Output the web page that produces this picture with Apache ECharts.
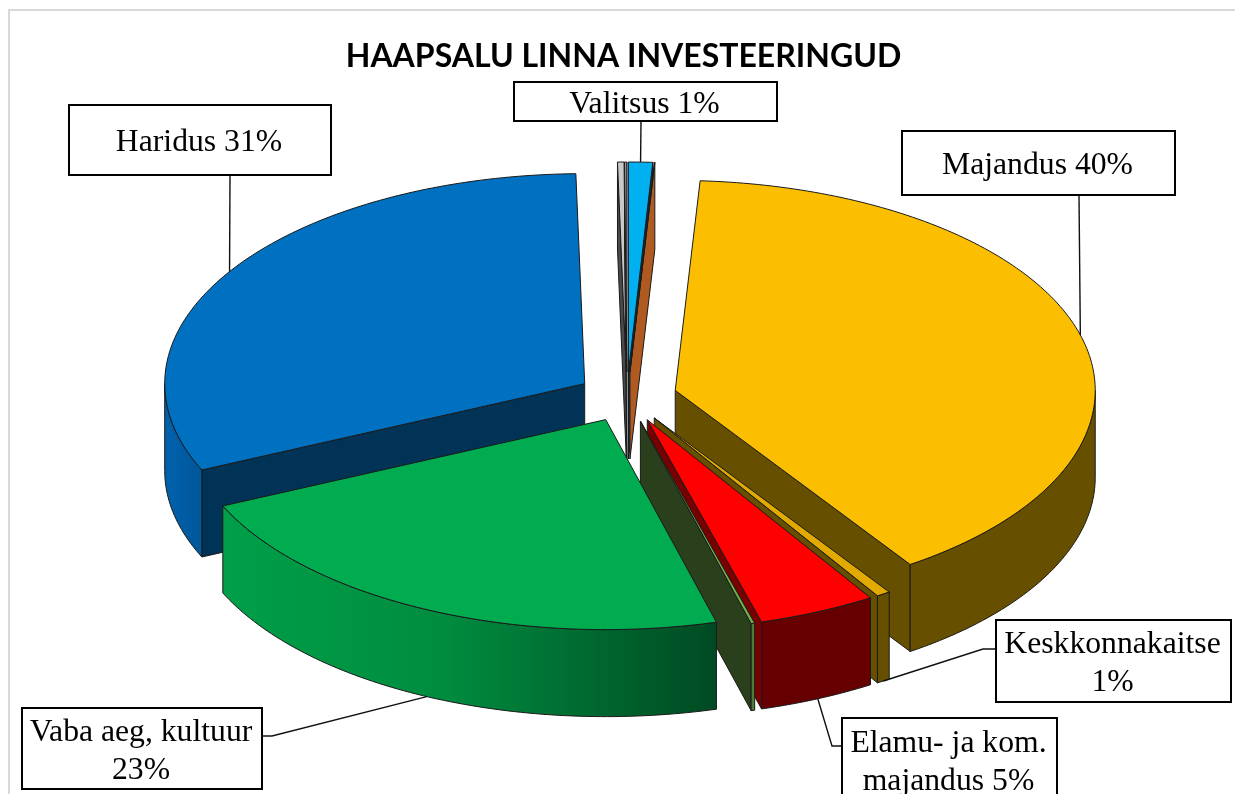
<!DOCTYPE html>
<html>
<head>
<meta charset="utf-8">
<style>
html, body { margin: 0; padding: 0; background: #fff; overflow: hidden; }
#chart { width: 1235px; height: 794px; }
</style>
<script src="https://cdn.jsdelivr.net/npm/echarts@6/dist/echarts.min.js"></script>
</head>
<body>
<div id="chart"></div>
<script>
// slices clockwise from the first one, shares in percent
var categories = ['Majandus', 'Keskkonnakaitse', 'Elamu- ja kom. majandus', 'Muu A', 'Vaba aeg, kultuur', 'Haridus', 'Muu B', 'Muu C', 'Valitsus', 'Muu D'];
var shares = [39.6, 0.53, 4.53, 0.14, 22.5, 31.4, 0.25, 0.08, 0.93, 0.02];

// colours per slice
var topColors = ['#FBBE00', '#E2AA00', '#FF0000', '#70AD47', '#00AC4F', '#0070C0', '#C9C9C9', '#A5A5A5', '#00B0F0', '#AE5A21'];
var faceColors = ['#665000', '#665000', '#780000', '#2A3F1C', '#004A23', '#003355', '#4A4A4A', '#8A8A8A', '#003F5C', '#AE5A21'];
var wallLeft = ['#665000', '#665000', '#660000', '#4F7A32', '#009F49', '#0062AC', '#777777', '#777777', '#006080', '#AE5A21'];
var wallMid = ['#665000', '#665000', '#660000', '#4F7A32', '#008C3F', '#005DA5', '#777777', '#777777', '#006080', '#AE5A21'];
var wallRight = ['#665000', '#665000', '#660000', '#4F7A32', '#004A23', '#00569A', '#777777', '#777777', '#006080', '#AE5A21'];

// back to front, the pie is painted like this
var drawOrder = [5, 6, 7, 8, 9, 0, 1, 2, 3, 4];

var labelSlices = [0, 1, 2, 4, 5, 8];
var labelTexts = ['Majandus 40%', 'Keskkonnakaitse\n1%', 'Elamu- ja kom.\nmajandus 5%', 'Vaba aeg, kultuur\n23%', 'Haridus 31%', 'Valitsus 1%'];

var CX = 627, CY = 397, RX = 420, RY = 210, DEPTH = 87, EXPLODE = 50, START_ANGLE = 3.4;
var EDGE = '#1a1a1a';

// box: x, y, w, h, then where the leader leaves it and its knee
var labelBoxes = [
    {x: 902, y: 131, w: 273, h: 64, from: [1079, 195]},
    {x: 996, y: 620, w: 235, h: 82, from: [996, 649], knee: [983, 649]},
    {x: 842, y: 718, w: 215, h: 84, from: [842, 746], knee: [832, 746]},
    {x: 22, y: 708, w: 240, h: 81, from: [262, 736], knee: [272, 736]},
    {x: 69, y: 105, w: 262, h: 70, from: [230, 175]},
    {x: 514, y: 82, w: 263, h: 39, from: [641, 121]}
];

var total = shares.reduce(function(a, b) { return a + b; }, 0);
var slices = [];
(function() {
    var t = START_ANGLE;
    for (var i = 0; i < shares.length; i++) {
        var span = shares[i] / total * 360;
        var mid = (t + span / 2) * Math.PI / 180;
        slices.push({
            start: t,
            end: t + span,
            mid: t + span / 2,
            ax: CX + EXPLODE * Math.sin(mid),
            ay: CY - EXPLODE * 0.5 * Math.cos(mid)
        });
        t += span;
    }
})();

function rim(s, deg, drop) {
    var r = deg * Math.PI / 180;
    return [s.ax + RX * Math.sin(r), s.ay - RY * Math.cos(r) + (drop || 0)];
}

function arc(s, from, to, drop) {
    var pts = [];
    for (var d = from; d < to; d += 1) {
        pts.push(rim(s, d, drop));
    }
    pts.push(rim(s, to, drop));
    return pts;
}

function poly(points, fill) {
    return {
        type: 'polygon',
        shape: {points: points},
        style: {fill: fill, stroke: EDGE, lineWidth: 1}
    };
}

function cutFace(s, deg, fill) {
    var a = [s.ax, s.ay], b = rim(s, deg);
    return poly([a, b, [b[0], b[1] + DEPTH], [a[0], a[1] + DEPTH]], fill);
}

function renderSlice(params, api) {
    var i = api.value(0);
    var s = slices[i];
    var children = [];
    var startNorm = s.start % 360, endNorm = s.end % 360;
    if (startNorm > 180) {
        children.push(cutFace(s, s.start, faceColors[i]));
    }
    if (endNorm < 180) {
        children.push(cutFace(s, s.end, faceColors[i]));
    }
    var wFrom = Math.max(s.start, 90), wTo = Math.min(s.end, 270);
    if (wTo > wFrom) {
        var fill = new echarts.graphic.LinearGradient(0, 0, 1, 0, [
            {offset: 0, color: wallLeft[i]},
            {offset: 0.45, color: wallMid[i]},
            {offset: 1, color: wallRight[i]}
        ]);
        children.push(poly(arc(s, wFrom, wTo).concat(arc(s, wFrom, wTo, DEPTH).reverse()), fill));
    }
    children.push(poly([[s.ax, s.ay]].concat(arc(s, s.start, s.end)), topColors[i]));
    return {type: 'group', children: children};
}

function renderLabel(params, api) {
    var n = api.value(0);
    var s = slices[labelSlices[n]];
    var box = labelBoxes[n];
    // front slices get the leader at the foot of the wall
    var frontal = Math.cos(s.mid * Math.PI / 180) < 0;
    var target = rim(s, s.mid, frontal ? DEPTH : 0);
    var line = [box.from];
    if (box.knee) {
        line.push(box.knee);
    }
    line.push(target);
    return {
        type: 'group',
        children: [
            {
                type: 'polyline',
                shape: {points: line},
                style: {fill: null, stroke: '#111', lineWidth: 1.4}
            },
            {
                type: 'rect',
                shape: {x: box.x, y: box.y, width: box.w, height: box.h},
                style: {fill: '#fff', stroke: '#000', lineWidth: 2}
            },
            {
                type: 'text',
                style: {
                    x: box.x + box.w / 2 - 1,
                    y: box.y + box.h / 2 + 3,
                    text: labelTexts[n],
                    fill: '#000',
                    font: '31.7px "Liberation Serif"',
                    lineHeight: 38,
                    align: 'center',
                    verticalAlign: 'middle'
                }
            }
        ]
    };
}

var chart = echarts.init(document.getElementById('chart'));
chart.setOption({
    animation: false,
    backgroundColor: '#fff',
    title: {
        text: 'HAAPSALU LINNA INVESTEERINGUD',
        left: 618.5,
        top: 36,
        textAlign: 'center',
        textStyle: {
            fontFamily: 'Lato',
            fontWeight: 'bold',
            fontSize: 32,
            color: '#000'
        }
    },
    graphic: [
        {
            type: 'rect',
            silent: true,
            z: -1,
            shape: {x: 9, y: 10, width: 1300, height: 900},
            style: {fill: null, stroke: '#D9D9D9', lineWidth: 2}
        }
    ],
    series: [
        {
            type: 'custom',
            coordinateSystem: 'none',
            silent: true,
            renderItem: renderSlice,
            data: drawOrder.map(function(i) { return [i]; })
        },
        {
            type: 'custom',
            coordinateSystem: 'none',
            silent: true,
            z: 5,
            renderItem: renderLabel,
            data: labelSlices.map(function(s, n) { return [n]; })
        }
    ]
});
</script>
</body>
</html>
